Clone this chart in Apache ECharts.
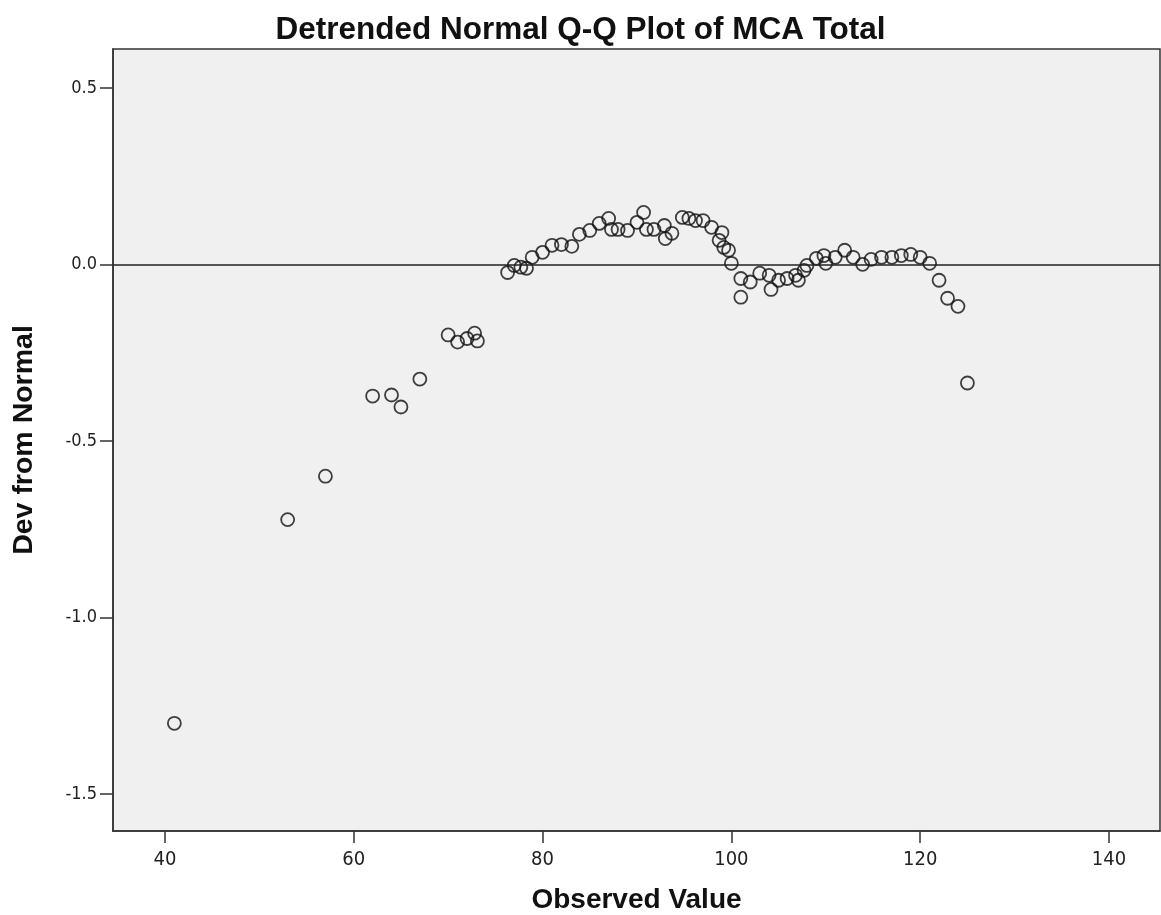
<!DOCTYPE html>
<html>
<head>
<meta charset="utf-8">
<title>Detrended Normal Q-Q Plot of MCA Total</title>
<script src="https://cdn.jsdelivr.net/npm/echarts@6/dist/echarts.min.js"></script>
<style>
  html, body { margin: 0; padding: 0; background: #fff; }
  #qq { width: 1161px; height: 915px; }
</style>
</head>
<body>
<div id="qq"></div>
<script>
const observed = [
  41, 53, 57, 62, 64, 65, 67, 70, 71, 72, 72.8, 73.1,
  76.3, 77, 77.7, 78.3, 78.9, 80, 81, 82, 83.1, 83.9, 85, 86, 87, 87.3, 88, 89, 90, 90.7, 91, 91.8,
  92.9, 93, 93.7, 94.8, 95.5, 96.2, 97, 97.9, 98.7, 99, 99.2, 99.7, 100,
  101, 101, 102, 103, 104, 104.2, 105, 105.9, 106.8, 107.1, 107.7, 108, 109, 109.8, 110,
  111, 112, 112.9, 113.9, 114.8, 115.9, 117, 118, 119, 120, 121, 122, 122.9, 124, 125
]
const devFromNormal = [
  -1.30, -0.723, -0.60, -0.373, -0.37, -0.404, -0.325, -0.20, -0.22, -0.21, -0.195, -0.217,
  -0.023, -0.003, -0.008, -0.011, 0.02, 0.034, 0.054, 0.056, 0.051, 0.085, 0.096, 0.116, 0.13, 0.099, 0.099, 0.096, 0.119, 0.147, 0.099, 0.099,
  0.11, 0.073, 0.088, 0.133, 0.13, 0.124, 0.124, 0.105, 0.068, 0.09, 0.048, 0.04, 0.003,
  -0.04, -0.093, -0.05, -0.025, -0.031, -0.071, -0.045, -0.04, -0.031, -0.045, -0.017, -0.003, 0.017, 0.025, 0.003,
  0.02, 0.04, 0.02, 0.0, 0.014, 0.02, 0.02, 0.025, 0.028, 0.02, 0.003, -0.045, -0.096, -0.119, -0.336
]
const xTicks = [40, 60, 80, 100, 120, 140]
const yTicks = [-1.5, -1.0, -0.5, 0.0, 0.5]

const points = observed.map((x, i) => [x, devFromNormal[i]])

let myChart = echarts.init(document.getElementById('qq'))
let option = {
  animation: false,
  title: {
    text: 'Detrended Normal Q-Q Plot of MCA Total',
    left: 'center',
    top: 9,
    textStyle: {
      fontFamily: 'Liberation Sans',
      fontWeight: 'bold',
      fontSize: 31.5,
      color: '#111'
    }
  },
  grid: {
    left: 113,
    top: 49,
    right: 1,
    bottom: 84,
    containLabel: false,
    outerBoundsMode: 'none',
    show: true,
    backgroundColor: '#f0f0f0',
    borderColor: '#333',
    borderWidth: 1.5
  },
  xAxis: {
    type: 'value',
    min: 34.5,
    max: 145.4,
    name: 'Observed Value',
    nameLocation: 'middle',
    nameGap: 55,
    nameTextStyle: { fontFamily: 'Liberation Sans', fontWeight: 'bold', fontSize: 28, color: '#111' },
    splitLine: { show: false },
    axisLine: { show: true, onZero: false, lineStyle: { color: '#333', width: 1.5 } },
    axisTick: { show: true, length: 12, customValues: xTicks, lineStyle: { color: '#333', width: 1.5 } },
    axisLabel: {
      customValues: xTicks,
      margin: 19,
      fontFamily: 'DejaVu Sans Condensed',
      fontSize: 20,
      color: '#222'
    }
  },
  yAxis: {
    type: 'value',
    min: -1.605,
    max: 0.61,
    name: 'Dev from Normal',
    nameLocation: 'middle',
    nameGap: 74,
    nameRotate: 90,
    nameTextStyle: { fontFamily: 'Liberation Sans', fontWeight: 'bold', fontSize: 28.5, color: '#111' },
    splitLine: { show: false },
    axisLine: { show: true, onZero: false, lineStyle: { color: '#333', width: 1.5 } },
    axisTick: { show: true, length: 13, customValues: yTicks, lineStyle: { color: '#333', width: 1.5 } },
    axisLabel: {
      customValues: yTicks,
      margin: 16,
      formatter: v => v.toFixed(1),
      fontFamily: 'DejaVu Sans Condensed',
      fontSize: 18,
      color: '#222'
    }
  },
  series: [{
    type: 'scatter',
    data: points,
    symbol: 'circle',
    symbolSize: 13,
    itemStyle: { color: 'rgba(0,0,0,0)', borderColor: '#111', borderWidth: 1.8 },
    markLine: {
      silent: true,
      symbol: 'none',
      label: { show: false },
      lineStyle: { color: '#222', width: 1.5, type: 'solid' },
      data: [{ yAxis: 0 }]
    }
  }]
}
myChart.setOption(option)
</script>
</body>
</html>
